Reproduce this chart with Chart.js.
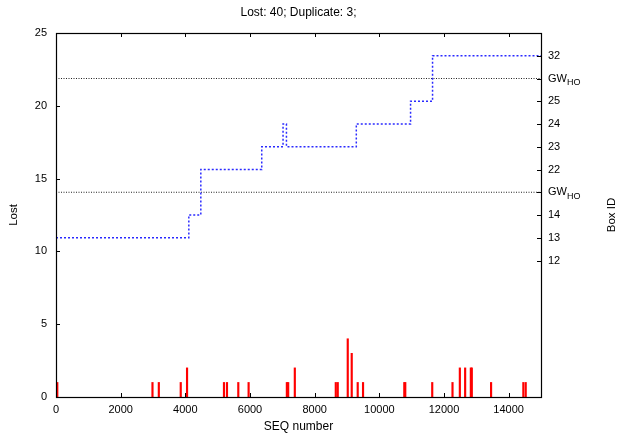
<!DOCTYPE html>
<html>
<head>
<meta charset="utf-8">
<script src="https://cdn.jsdelivr.net/npm/chart.js@4/dist/chart.umd.min.js"></script>
<style>
  html, body { margin: 0; padding: 0; background: #fff; }
  canvas { display: block; }
</style>
</head>
<body>
<canvas id="lossChart" width="617" height="435"></canvas>
<script>
const chartTitle = 'Lost: 40; Duplicate: 3;';

// lost packets at each SEQ number (drawn as impulses)
const lostSeq = [40, 2984, 3180, 3858, 4053, 5195, 5288, 5638, 5957, 7140, 7181, 7386,
  8653, 8714, 9023, 9146, 9331, 9496, 10772, 10802, 11636, 12263, 12490, 12654,
  12830, 12860, 13456, 14454, 14527];
const lostCount = [1, 1, 1, 1, 2, 1, 1, 1, 1, 1, 1, 2,
  1, 1, 4, 3, 1, 1, 1, 1, 1, 1, 2, 2,
  2, 2, 1, 1, 1];

// serving box over SEQ number, level = index into boxLabels
const boxSeq = [0, 4108, 4479, 6363, 7022, 7127, 9288, 10966, 11646, 15000];
const boxLevel = [1, 2, 4, 5, 6, 5, 6, 7, 9, 9];
const boxLabels = ['12', '13', '14', 'GW|HO', '22', '23', '24', '25', 'GW|HO', '32'];
const gwLevels = [3, 8];

const seqTicks = [0, 2000, 4000, 6000, 8000, 10000, 12000, 14000];
const lostTicks = [0, 5, 10, 15, 20, 25];

const FONT = '"Liberation Sans", Arial, sans-serif';
Chart.defaults.font.family = FONT;
Chart.defaults.font.size = 11;
Chart.defaults.color = '#000';

// gnuplot-like frame: inward ticks, border box, title, subscripted labels
const frame = {
  id: 'frame',
  afterDatasetsDraw(chart) {
    const { ctx, chartArea: a, scales } = chart;
    ctx.save();
    ctx.strokeStyle = '#000';
    ctx.lineWidth = 1;
    ctx.beginPath();
    scales.x.ticks.forEach(t => {
      const px = Math.round(scales.x.getPixelForValue(t.value)) + 0.5;
      ctx.moveTo(px, a.bottom); ctx.lineTo(px, a.bottom - 4);
      ctx.moveTo(px, a.top); ctx.lineTo(px, a.top + 4);
    });
    scales.y.ticks.forEach(t => {
      const py = Math.round(scales.y.getPixelForValue(t.value)) + 0.5;
      ctx.moveTo(a.left, py); ctx.lineTo(a.left + 4, py);
    });
    scales.y2.ticks.forEach(t => {
      const py = Math.round(scales.y2.getPixelForValue(t.value)) + 0.5;
      ctx.moveTo(a.right, py); ctx.lineTo(a.right - 4, py);
    });
    ctx.stroke();
    ctx.lineWidth = 1.2;
    ctx.strokeRect(Math.round(a.left) + 0.5, Math.round(a.top) + 0.5,
      Math.round(a.right - a.left), Math.round(a.bottom - a.top));
    ctx.restore();
  },
  afterDraw(chart) {
    const { ctx, chartArea: a, scales } = chart;
    ctx.save();
    ctx.fillStyle = '#000';
    ctx.textBaseline = 'middle';
    ctx.font = '12px ' + FONT;
    ctx.textAlign = 'center';
    ctx.fillText(chartTitle, (a.left + a.right) / 2, 12.5);

    ctx.textAlign = 'left';
    boxLabels.forEach((lab, i) => {
      if (!lab.includes('|')) return;
      const [main, sub] = lab.split('|');
      const py = scales.y2.getPixelForValue(i);
      ctx.font = '11px ' + FONT;
      ctx.fillText(main, a.right + 7, py);
      const w = ctx.measureText(main).width;
      ctx.font = '9px ' + FONT;
      ctx.fillText(sub, a.right + 7 + w, py + 4);
    });

    ctx.font = '11.5px ' + FONT;
    ctx.translate(612, (a.top + a.bottom) / 2);
    ctx.rotate(-Math.PI / 2);
    ctx.textAlign = 'center';
    ctx.fillText('Box ID', 0, 0);
    ctx.restore();
  }
};

const gwDatasets = gwLevels.map(lv => ({
  type: 'line',
  data: [{ x: 0, y: lv }, { x: 15000, y: lv }],
  yAxisID: 'y2',
  borderColor: '#222',
  borderWidth: 1,
  borderDash: [1, 1.5],
  pointRadius: 0
}));

new Chart(document.getElementById('lossChart'), {
  type: 'bar',
  data: {
    datasets: [
      {
        type: 'bar',
        data: lostSeq.map((s, i) => ({ x: s, y: lostCount[i] })),
        yAxisID: 'y',
        backgroundColor: '#ff0000',
        barThickness: 1.5
      },
      {
        type: 'line',
        data: boxSeq.map((s, i) => ({ x: s, y: boxLevel[i] })),
        yAxisID: 'y2',
        stepped: true,
        borderColor: '#2a2aff',
        borderWidth: 1.5,
        borderDash: [2, 2],
        pointRadius: 0
      },
      ...gwDatasets
    ]
  },
  options: {
    responsive: false,
    animation: false,
    devicePixelRatio: 1,
    layout: { padding: { top: 33, left: 0, right: 0, bottom: 0 } },
    plugins: {
      legend: { display: false },
      tooltip: { enabled: false },
      title: { display: false }
    },
    scales: {
      x: {
        type: 'linear',
        min: 0,
        max: 15000,
        offset: false,
        grid: { display: false, drawTicks: false, offset: false },
        border: { display: false },
        afterBuildTicks: s => { s.ticks = seqTicks.map(v => ({ value: v })); },
        ticks: { padding: 6.5, maxRotation: 0, autoSkip: false, callback: v => String(v) },
        title: { display: true, text: 'SEQ number', font: { size: 12 }, padding: { top: 0, bottom: 1 } },
        afterFit: s => { s.height = 38; }
      },
      y: {
        position: 'left',
        min: 0,
        max: 25,
        grid: { display: false, drawTicks: false },
        border: { display: false },
        afterBuildTicks: s => { s.ticks = lostTicks.map(v => ({ value: v })); },
        ticks: { padding: 9, autoSkip: false },
        title: { display: true, text: 'Lost', font: { size: 11.5 }, padding: { top: 7, bottom: 0 } },
        afterFit: s => { s.width = 56; }
      },
      y2: {
        position: 'right',
        min: -6,
        max: 10,
        grid: { display: false, drawTicks: false },
        border: { display: false },
        afterBuildTicks: s => { s.ticks = boxLabels.map((_, i) => ({ value: i })); },
        ticks: {
          padding: 7,
          autoSkip: false,
          callback: v => (boxLabels[v] && !boxLabels[v].includes('|')) ? boxLabels[v] : ''
        },
        afterFit: s => { s.width = 76; }
      }
    }
  },
  plugins: [frame]
});
</script>
</body>
</html>
